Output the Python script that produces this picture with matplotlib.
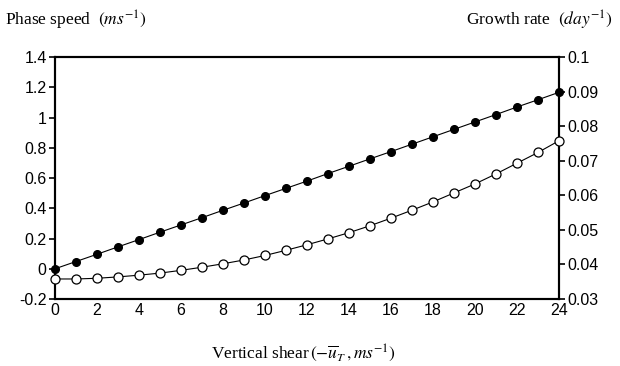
import matplotlib
matplotlib.use('Agg')
import matplotlib.pyplot as plt
import numpy as np

# vertical shear (m/s)
shear = list(range(0, 25))

# phase speed (m/s), filled circles, left axis
phase_speed = [0.0, 0.048, 0.096, 0.145, 0.193, 0.242, 0.290, 0.338, 0.387, 0.435,
               0.484, 0.532, 0.580, 0.630, 0.678, 0.727, 0.775, 0.824, 0.873, 0.922,
               0.971, 1.020, 1.070, 1.118, 1.167]

# growth rate (1/day), open circles, right axis
growth_rate = [0.0358, 0.0358, 0.0360, 0.0364, 0.0369, 0.0375, 0.0383, 0.0392, 0.0402,
               0.0413, 0.0426, 0.0441, 0.0457, 0.0474, 0.0492, 0.0512, 0.0534, 0.0557,
               0.0581, 0.0607, 0.0633, 0.0662, 0.0693, 0.0724, 0.0758]

left_ticks = [-0.2, 0, 0.2, 0.4, 0.6, 0.8, 1, 1.2, 1.4]
right_ticks = [0.03, 0.04, 0.05, 0.06, 0.07, 0.08, 0.09, 0.1]
x_ticks = list(range(0, 25, 2))

plt.rcParams['font.family'] = 'Liberation Sans'
plt.rcParams['mathtext.fontset'] = 'stix'

fig = plt.figure(figsize=(6.2, 3.66), dpi=100)
ax = fig.add_axes([0.0887, 0.183, 0.8129, 0.661])
ax2 = ax.twinx()

ax.plot(shear, phase_speed, '-o', color='black', lw=0.8, ms=5.5,
        mfc='black', mec='black', clip_on=False, zorder=3)
ax2.plot(shear, growth_rate, '-o', color='black', lw=0.8, ms=6.5,
         mfc='white', mec='black', mew=0.9, clip_on=False, zorder=3)

ax.set_xlim(0, 24)
ax.set_ylim(-0.2, 1.4)
ax2.set_ylim(0.03, 0.1)
ax.set_xticks(x_ticks)
ax.set_yticks(left_ticks)
ax.set_yticklabels(['-0.2', '0', '0.2', '0.4', '0.6', '0.8', '1', '1.2', '1.4'])
ax2.set_yticks(right_ticks)
ax2.set_yticklabels(['0.03', '0.04', '0.05', '0.06', '0.07', '0.08', '0.09', '0.1'])

for a in (ax, ax2):
    for s in a.spines.values():
        s.set_linewidth(1.5)
ax.tick_params(axis='y', direction='out', length=4, width=1.2, labelsize=11.5, pad=2)
ax2.tick_params(axis='y', direction='out', length=4, width=1.2, labelsize=11.5, pad=2)
ax.tick_params(axis='x', length=0, labelsize=11.5, pad=3)

serif = 'Liberation Serif'
fig.text(0.008, 0.945, r'Phase speed  $(ms^{-1})$', family=serif, fontsize=12.5,
         ha='left', va='center')
fig.text(0.988, 0.945, r'Growth rate  $(day^{-1})$', family=serif, fontsize=12.5,
         ha='right', va='center')
fig.text(0.49, 0.035, r'Vertical shear$\,(-\overline{u}_T\,, ms^{-1})$', family=serif,
         fontsize=12.5, ha='center', va='center')

fig.savefig('out.png', dpi=100)
